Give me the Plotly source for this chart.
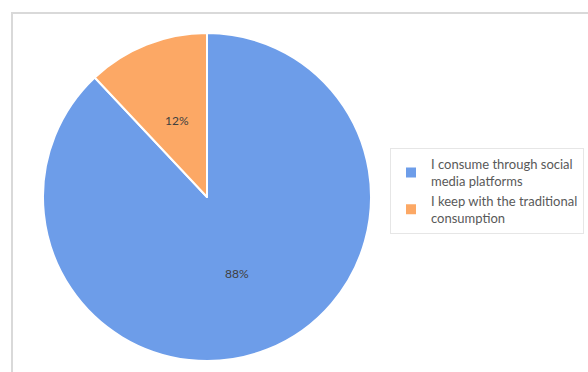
import math
import plotly.graph_objects as go

labels = ["I consume through social<br>media platforms", "I keep with the traditional<br>consumption"]
values = [88, 12]
colors = ["#6d9de9", "#fca865"]

W, H = 588, 372
cx, cy, r = 207, 197, 164

fig = go.Figure(go.Pie(
    labels=labels,
    values=values,
    sort=False,
    direction="clockwise",
    rotation=0,
    marker=dict(colors=colors, line=dict(color="white", width=2)),
    textinfo="none",
    domain=dict(x=[(cx - r) / W, (cx + r) / W], y=[1 - (cy + r) / H, 1 - (cy - r) / H]),
    hoverinfo="label+percent",
))

# percentage labels placed along each slice bisector at half radius
total = sum(values)
cum = 0
annotations = []
for v in values:
    mid = (cum + v / 2) / total * 2 * math.pi
    cum += v
    px = cx + 0.5 * r * math.sin(mid)
    py = cy - 0.5 * r * math.cos(mid)
    annotations.append(dict(
        x=px / W, y=1 - py / H, xref="paper", yref="paper",
        xanchor="center", yanchor="middle",
        text=f"{round(v / total * 100)}%", showarrow=False,
        font=dict(family="Lato", size=12, color="#404040"),
    ))

fig.update_layout(
    width=W, height=H,
    margin=dict(l=0, r=0, t=0, b=0),
    paper_bgcolor="white",
    plot_bgcolor="white",
    showlegend=True,
    legend=dict(
        x=390 / W, y=1 - 148 / H, xanchor="left", yanchor="top",
        bordercolor="#e6e6e6", borderwidth=1,
        font=dict(family="Lato", size=13, color="#595959"),
        tracegroupgap=19, itemwidth=30,
    ),
    annotations=annotations,
    shapes=[dict(type="rect", xref="paper", yref="paper",
                 x0=12 / W, x1=1.02, y0=-0.02, y1=1 - 13 / H,
                 line=dict(color="#d9d9d9", width=2), layer="below")],
)

fig.write_html("out.html")
